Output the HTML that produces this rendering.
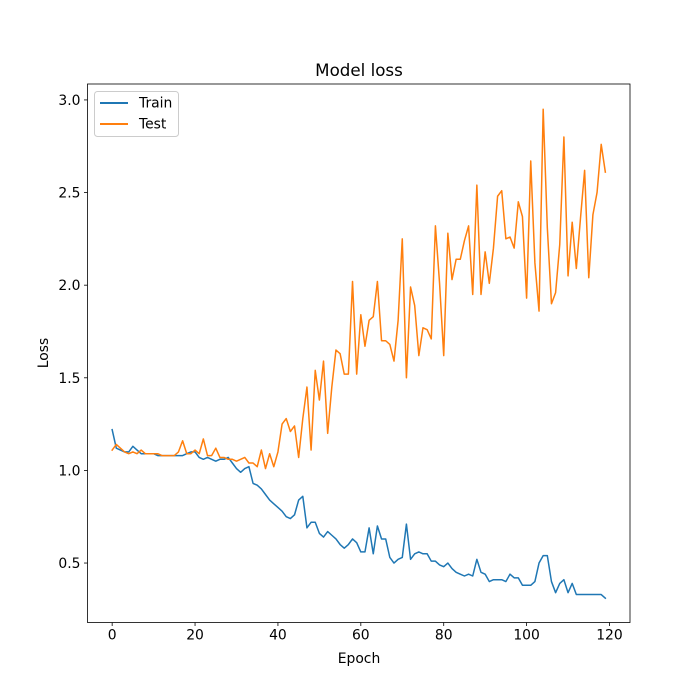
<!DOCTYPE html>
<html><head><meta charset="utf-8"><style>
body{margin:0;background:#fff;}
svg{display:block;font-family:"DejaVu Sans","Liberation Sans",sans-serif;}
</style></head><body>
<svg id="chart" width="700" height="700" viewBox="0 0 700 700">
<rect x="0" y="0" width="700" height="700" fill="#fff"/>
<g id="plot"></g>
<g id="axes"></g>
<text x="359" y="76" text-anchor="middle" font-size="16.7">Model loss</text>
<text x="359" y="663" text-anchor="middle" font-size="13.9">Epoch</text>
<text transform="translate(48,353) rotate(-90)" text-anchor="middle" font-size="13.9">Loss</text>
<g>
<rect x="94.5" y="91.5" width="84" height="45" rx="3" fill="#fff" stroke="#ccc" stroke-width="1"/>
<line x1="100" y1="103" x2="128" y2="103" stroke="#1f77b4" stroke-width="2"/>
<text x="139" y="107.5" font-size="13.9">Train</text>
<line x1="100" y1="124" x2="128" y2="124" stroke="#ff7f0e" stroke-width="2"/>
<text x="139" y="128.5" font-size="13.9">Test</text>
</g>
</svg>
<script>
const train=[1.22,1.12,1.11,1.10,1.10,1.13,1.11,1.09,1.09,1.09,1.09,1.08,1.08,1.08,1.08,1.08,1.08,1.08,1.09,1.10,1.10,1.07,1.06,1.07,1.06,1.05,1.06,1.06,1.07,1.04,1.01,0.99,1.01,1.02,0.93,0.92,0.90,0.87,0.84,0.82,0.80,0.78,0.75,0.74,0.76,0.84,0.86,0.69,0.72,0.72,0.66,0.64,0.67,0.65,0.63,0.60,0.58,0.60,0.63,0.61,0.56,0.56,0.69,0.55,0.70,0.63,0.63,0.53,0.50,0.52,0.53,0.71,0.52,0.55,0.56,0.55,0.55,0.51,0.51,0.49,0.48,0.50,0.47,0.45,0.44,0.43,0.44,0.43,0.52,0.45,0.44,0.40,0.41,0.41,0.41,0.40,0.44,0.42,0.42,0.38,0.38,0.38,0.40,0.50,0.54,0.54,0.40,0.34,0.39,0.41,0.34,0.39,0.33,0.33,0.33,0.33,0.33,0.33,0.33,0.31];
const test=[1.11,1.14,1.12,1.10,1.09,1.10,1.09,1.11,1.09,1.09,1.09,1.09,1.08,1.08,1.08,1.08,1.10,1.16,1.09,1.09,1.11,1.09,1.17,1.08,1.08,1.12,1.07,1.07,1.06,1.06,1.05,1.06,1.07,1.04,1.04,1.02,1.11,1.01,1.09,1.02,1.10,1.25,1.28,1.21,1.24,1.07,1.28,1.45,1.11,1.54,1.38,1.59,1.20,1.45,1.65,1.63,1.52,1.52,2.02,1.52,1.84,1.67,1.81,1.83,2.02,1.70,1.70,1.68,1.59,1.81,2.25,1.50,1.99,1.89,1.62,1.77,1.76,1.71,2.32,2.01,1.62,2.28,2.03,2.14,2.14,2.24,2.32,1.95,2.54,1.95,2.18,2.01,2.20,2.48,2.51,2.25,2.26,2.20,2.45,2.37,1.93,2.67,2.12,1.86,2.95,2.31,1.90,1.96,2.22,2.80,2.05,2.34,2.09,2.36,2.62,2.04,2.38,2.50,2.76,2.61];
const xTicks=[0,20,40,60,80,100,120];
const yTicks=[0.5,1.0,1.5,2.0,2.5,3.0];
const NS="http://www.w3.org/2000/svg";
const L=87.5,R=630,T=84,B=622.5;
const xMin=-5.95,xMax=124.95,yMin=0.179,yMax=3.086;
function sx(v){return L+(v-xMin)/(xMax-xMin)*(R-L);}
function sy(v){return B-(v-yMin)/(yMax-yMin)*(B-T);}
const plot=document.getElementById('plot'),axes=document.getElementById('axes');
function mk(tag,attrs,parent){const e=document.createElementNS(NS,tag);for(const k in attrs)e.setAttribute(k,attrs[k]);parent.appendChild(e);return e;}
function line(arr,color,name){
  const p=mk('polyline',{points:arr.map((v,i)=>sx(i).toFixed(2)+','+sy(v).toFixed(2)).join(' '),fill:'none',stroke:color,'stroke-width':1.5,'stroke-linejoin':'round','stroke-linecap':'square'},plot);
  
  
}
line(train,'#1f77b4','train-line');
line(test,'#ff7f0e','test-line');
const frame=mk('rect',{x:L,y:T,width:R-L,height:B-T,fill:'none',stroke:'#000','stroke-width':0.8},axes);


xTicks.forEach(t=>{
  const x=sx(t);
  const tk=mk('line',{x1:x,y1:B,x2:x,y2:B+3.5,stroke:'#000','stroke-width':0.8},axes);
  
  
  const tx=mk('text',{x:x,y:B+17,'text-anchor':'middle','font-size':13.9},axes);
  tx.textContent=String(t);
  
  
});
yTicks.forEach(t=>{
  const y=sy(t);
  const tk=mk('line',{x1:L-3.5,y1:y,x2:L,y2:y,stroke:'#000','stroke-width':0.8},axes);
  
  
  const tx=mk('text',{x:L-7,y:y+5,'text-anchor':'end','font-size':13.9},axes);
  tx.textContent=t.toFixed(1);
  
  
});
</script>
</body></html>
